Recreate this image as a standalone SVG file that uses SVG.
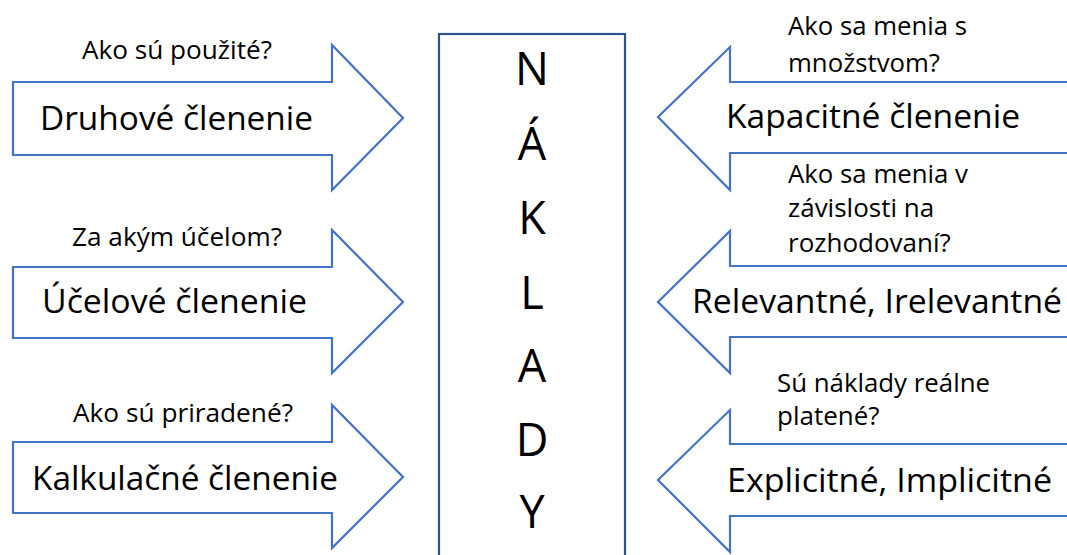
<svg xmlns="http://www.w3.org/2000/svg" width="1067" height="555" viewBox="0 0 1067 555">
<style>
.arrow{fill:#ffffff;stroke:#4472C4;stroke-width:2.2;stroke-linejoin:miter}
.box{fill:#ffffff;stroke:#2F528F;stroke-width:2.2}
text{font-family:"Open Sans","Noto Sans","Liberation Sans",sans-serif;fill:#000000}
.big{font-size:33px}
.q{font-size:26px}
.letter{font-size:45px;text-anchor:middle}
</style>
<rect width="1067" height="555" fill="#ffffff"/>
<g id="connectors">
<polygon class="arrow" points="13,82 332,82 332,45 403,118 332,190 332,155 13,155"/>
<polygon class="arrow" points="13,267 332,267 332,230 403,302 332,373 332,338 13,338"/>
<polygon class="arrow" points="13,442 332,442 332,405 403,477 332,548 332,513 13,513"/>
<polygon class="arrow" points="1070,82 730,82 730,47 658,117 730,190 730,153 1070,153"/>
<polygon class="arrow" points="1070,266 730,266 730,231 658,302 730,373 730,337 1070,337"/>
<polygon class="arrow" points="1070,444 730,444 730,410 658,480 730,552 730,516 1070,516"/>
</g>
<g id="naklady">
<rect class="box" x="439" y="34" width="186" height="530"/>
<text class="letter" x="532" y="85">N</text>
<text class="letter" x="532" y="160">Á</text>
<text class="letter" x="532" y="234">K</text>
<text class="letter" x="532" y="309">L</text>
<text class="letter" x="532" y="382">A</text>
<text class="letter" x="532" y="456">D</text>
<text class="letter" x="532" y="528">Y</text>
</g>
<g id="druhove">
<text class="q" x="82" y="59" textLength="190" lengthAdjust="spacingAndGlyphs">Ako sú použité?</text>
<text class="big" x="40" y="130" textLength="273" lengthAdjust="spacingAndGlyphs">Druhové členenie</text>
</g>
<g id="ucelove">
<text class="q" x="72" y="246" textLength="210" lengthAdjust="spacingAndGlyphs">Za akým účelom?</text>
<text class="big" x="42" y="313" textLength="265" lengthAdjust="spacingAndGlyphs">Účelové členenie</text>
</g>
<g id="kalkulacne">
<text class="q" x="73" y="422" textLength="220" lengthAdjust="spacingAndGlyphs">Ako sú priradené?</text>
<text class="big" x="32" y="490" textLength="306" lengthAdjust="spacingAndGlyphs">Kalkulačné členenie</text>
</g>
<g id="kapacitne">
<text class="q" x="788" y="35" textLength="179" lengthAdjust="spacingAndGlyphs">Ako sa menia s</text>
<text class="q" x="788" y="72" textLength="152" lengthAdjust="spacingAndGlyphs">množstvom?</text>
<text class="big" x="726" y="128" textLength="294" lengthAdjust="spacingAndGlyphs">Kapacitné členenie</text>
</g>
<g id="relevantne">
<text class="q" x="788" y="183" textLength="180" lengthAdjust="spacingAndGlyphs">Ako sa menia v</text>
<text class="q" x="788" y="217">závislosti na</text>
<text class="q" x="788" y="252">rozhodovaní?</text>
<text class="big" x="692" y="313" textLength="370" lengthAdjust="spacingAndGlyphs">Relevantné, Irelevantné</text>
</g>
<g id="explicitne">
<text class="q" x="777" y="392" textLength="213" lengthAdjust="spacingAndGlyphs">Sú náklady reálne</text>
<text class="q" x="777" y="425">platené?</text>
<text class="big" x="727" y="492" textLength="325" lengthAdjust="spacingAndGlyphs">Explicitné, Implicitné</text>
</g>
</svg>
